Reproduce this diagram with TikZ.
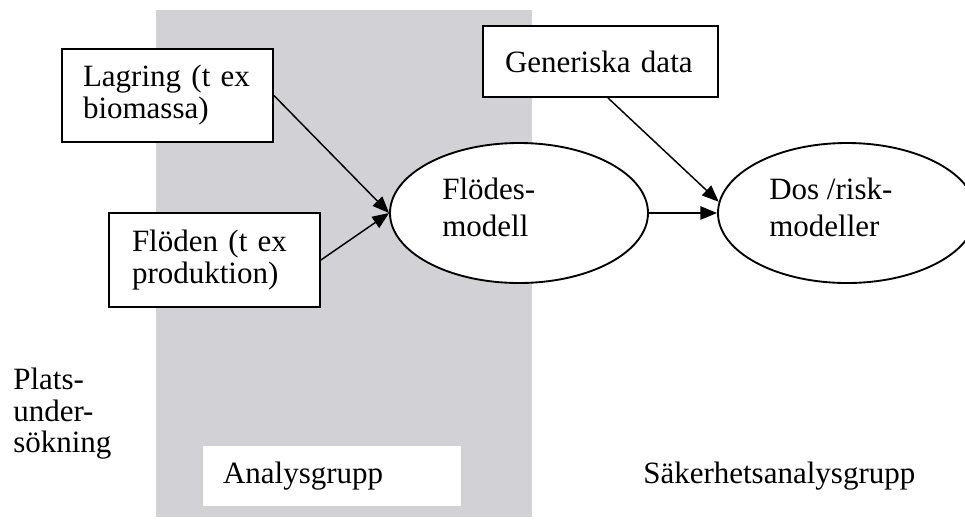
\documentclass[tikz,border=0pt]{standalone}
\usepackage{fontspec}
\setmainfont{Liberation Serif}
\usetikzlibrary{shapes.geometric,arrows.meta,calc}

\definecolor{groupgrey}{RGB}{209,209,214}

\begin{document}
\begin{tikzpicture}[
    x=0.75pt, y=-0.75pt,
    every node/.style={font=\fontsize{23.25}{24}\selectfont},
    inbox/.style={draw=black, line width=1.4pt, fill=white, rectangle,
      align=left, inner ysep=0pt},
    model/.style={draw=black, line width=1.4pt, fill=white, ellipse,
      minimum width=193.5pt, minimum height=105pt, inner sep=0pt},
    plain/.style={inner sep=0pt, align=left},
    flow/.style={line width=1.1pt, -{Triangle[length=12.5pt,width=10pt]}}
  ]
  \useasboundingbox (0,0) rectangle (965,519);
  \clip (0,0) rectangle (965,519);

  % analysis group background band
  \fill[groupgrey] (156,10) rectangle (532,517);

  % input boxes
  \node[inbox, minimum width=158.25pt, minimum height=69.75pt,
        text width=126.75pt, inner xsep=15.75pt]
    (lagring) at (167.5,95.5) {Lagring (t ex\\biomassa)};
  \node[inbox, minimum width=158.25pt, minimum height=70.5pt,
        text width=123.75pt, inner xsep=17.25pt]
    (floden) at (214.5,260) {Flöden (t ex\\produktion)};
  \node[inbox, minimum width=176.25pt, minimum height=53.25pt,
        text width=143.25pt, inner xsep=16.5pt]
    (gen) at (600.5,61.5) {Generiska data};

  % models
  \node[model] (flode) at (519,213) {};
  \node[plain, anchor=north west,
        font=\fontsize{23.25}{27.75}\selectfont]
    (flodetext) at (442,177.8) {Flödes-\\modell};
  \node[model] (dos) at (847,213) {};
  \node[plain, anchor=north west,
        font=\fontsize{23.25}{27.75}\selectfont]
    (dostext) at (769,177.8) {Dos /risk-\\modeller};

  % group labels
  \node[plain, anchor=north west,
        font=\fontsize{23.25}{23.6}\selectfont]
    (plats) at (13,367.8) {Plats-\\under-\\sökning};
  \node[rectangle, fill=white, minimum width=193.5pt, minimum height=45pt,
        text width=163.5pt, inner xsep=15pt, inner ysep=0pt, align=left]
    (analys) at (332,476) {Analysgrupp};
  \node[inner sep=0pt, anchor=base west]
    (saker) at (643,483) {Säkerhetsanalysgrupp};

  % connectors
  \draw[flow] (lagring.east) -- (flode.west);
  \draw[flow] (floden.east) -- (flode.west);
  \draw[flow] ($(gen.south)+(7.5,0)$) -- (dos.175.5);
  \draw[flow] (flode.east) -- (dos.west);
\end{tikzpicture}
\end{document}
